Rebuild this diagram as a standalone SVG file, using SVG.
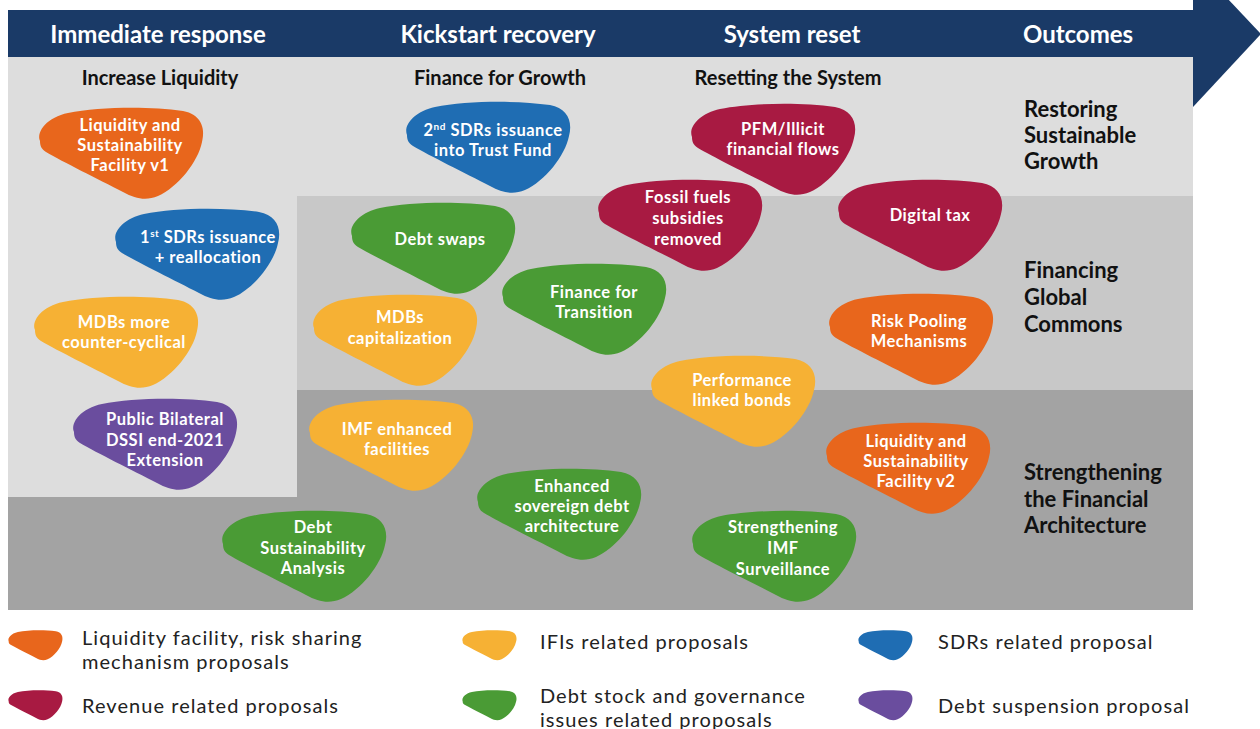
<svg xmlns="http://www.w3.org/2000/svg" xmlns:xlink="http://www.w3.org/1999/xlink" width="1260" height="729" viewBox="0 0 1260 729">
<style>
.hdr{font-family:Lato,"Liberation Sans",sans-serif;font-weight:700;font-size:24px;fill:#ffffff;text-anchor:middle}
.sub{font-family:Lato,"Liberation Sans",sans-serif;font-weight:700;font-size:20px;fill:#111111;text-anchor:middle}
.out{font-family:Lato,"Liberation Sans",sans-serif;font-weight:700;font-size:22px;fill:#111111}
.bt{font-family:Lato,"Liberation Sans",sans-serif;font-weight:700;font-size:16.5px;letter-spacing:0.5px;fill:#ffffff;text-anchor:middle}
.lg{font-family:Lato,"Liberation Sans",sans-serif;font-weight:400;font-size:20px;letter-spacing:1.05px;fill:#222222}
.orange{fill:#e8661c}
.blue{fill:#1f6db3}
.crimson{fill:#a81a42}
.green{fill:#4a9b35}
.yellow{fill:#f6b134}
.purple{fill:#6a4d9e}
</style>
<defs>
<path id="blob" d="M 2,34 C -2,24 10,10 30,6 C 60,0 110,-1 145,4 C 162,7 168,20 164,35 C 160,55 140,80 120,89 C 108,94 98,92 85,85 C 60,72 25,55 8,45 C 3,42 2,38 2,34 Z"/>
</defs>

<g id="background">
<rect x="8" y="57" width="1185" height="553" fill="#dddddd"/>
<rect x="297" y="196" width="896" height="194" fill="#c8c8c8"/>
<path d="M297,390 H1193 V610 H8 V497 H297 Z" fill="#a3a3a3"/>
</g>

<g id="header">
<rect x="8" y="10" width="1186" height="47" fill="#1a3a67"/>
<polygon points="1193,-38 1261,34 1193,107" fill="#1a3a67"/>
<text class="hdr" x="158" y="43">Immediate response</text>
<text class="hdr" x="498" y="43">Kickstart recovery</text>
<text class="hdr" x="792" y="43">System reset</text>
<text class="hdr" x="1078" y="43">Outcomes</text>
</g>

<g id="subheaders">
<text class="sub" x="160" y="85">Increase Liquidity</text>
<text class="sub" x="500" y="85">Finance for Growth</text>
<text class="sub" x="788" y="85">Resetting the System</text>
</g>

<g id="outcomes">
<text class="out" x="1024" y="117">Restoring</text>
<text class="out" x="1024" y="143">Sustainable</text>
<text class="out" x="1024" y="169">Growth</text>
<text class="out" x="1024" y="278">Financing</text>
<text class="out" x="1024" y="305">Global</text>
<text class="out" x="1024" y="332">Commons</text>
<text class="out" x="1024" y="480">Strengthening</text>
<text class="out" x="1024" y="507">the Financial</text>
<text class="out" x="1024" y="533">Architecture</text>
</g>

<g id="connectors"></g>

<g id="lsf1">
<use xlink:href="#blob" class="orange" transform="translate(38,107)"/>
<text class="bt" x="130" y="131">Liquidity and</text>
<text class="bt" x="130" y="151">Sustainability</text>
<text class="bt" x="130" y="171">Facility v1</text>
</g>
<g id="sdr2">
<use xlink:href="#blob" class="blue" transform="translate(405,101)"/>
<text class="bt" x="493" y="136">2<tspan font-size="10" dy="-6">nd</tspan><tspan dy="6"> SDRs issuance</tspan></text>
<text class="bt" x="493" y="156">into Trust Fund</text>
</g>
<g id="pfm">
<use xlink:href="#blob" class="crimson" transform="translate(690,103)"/>
<text class="bt" x="783" y="135">PFM/Illicit</text>
<text class="bt" x="783" y="155">financial flows</text>
</g>
<g id="fossil">
<use xlink:href="#blob" class="crimson" transform="translate(597,179)"/>
<text class="bt" x="688" y="203">Fossil fuels</text>
<text class="bt" x="688" y="224">subsidies</text>
<text class="bt" x="688" y="245">removed</text>
</g>
<g id="digital">
<use xlink:href="#blob" class="crimson" transform="translate(837,179)"/>
<text class="bt" x="930" y="221">Digital tax</text>
</g>
<g id="sdr1">
<use xlink:href="#blob" class="blue" transform="translate(114,208)"/>
<text class="bt" x="208" y="243">1<tspan font-size="10" dy="-6">st</tspan><tspan dy="6"> SDRs issuance</tspan></text>
<text class="bt" x="208" y="263">+ reallocation</text>
</g>
<g id="swaps">
<use xlink:href="#blob" class="green" transform="translate(350,202)"/>
<text class="bt" x="440" y="245">Debt swaps</text>
</g>
<g id="transition">
<use xlink:href="#blob" class="green" transform="translate(501,263)"/>
<text class="bt" x="594" y="298">Finance for</text>
<text class="bt" x="594" y="318">Transition</text>
</g>
<g id="mdbcc">
<use xlink:href="#blob" class="yellow" transform="translate(33,296)"/>
<text class="bt" x="124" y="328">MDBs more</text>
<text class="bt" x="124" y="348">counter-cyclical</text>
</g>
<g id="mdbcap">
<use xlink:href="#blob" class="yellow" transform="translate(312,294)"/>
<text class="bt" x="400" y="323">MDBs</text>
<text class="bt" x="400" y="344">capitalization</text>
</g>
<g id="risk">
<use xlink:href="#blob" class="orange" transform="translate(828,293)"/>
<text class="bt" x="919" y="327">Risk Pooling</text>
<text class="bt" x="919" y="347">Mechanisms</text>
</g>
<g id="perf">
<use xlink:href="#blob" class="yellow" transform="translate(650,355)"/>
<text class="bt" x="742" y="386">Performance</text>
<text class="bt" x="742" y="406">linked bonds</text>
</g>
<g id="dssi">
<use xlink:href="#blob" class="purple" transform="translate(72,398)"/>
<text class="bt" x="165" y="425">Public Bilateral</text>
<text class="bt" x="165" y="446">DSSI end-2021</text>
<text class="bt" x="165" y="466">Extension</text>
</g>
<g id="imf">
<use xlink:href="#blob" class="yellow" transform="translate(308,399)"/>
<text class="bt" x="397" y="435">IMF enhanced</text>
<text class="bt" x="397" y="455">facilities</text>
</g>
<g id="lsf2">
<use xlink:href="#blob" class="orange" transform="translate(825,422)"/>
<text class="bt" x="916" y="447">Liquidity and</text>
<text class="bt" x="916" y="467">Sustainability</text>
<text class="bt" x="916" y="487">Facility v2</text>
</g>
<g id="sov">
<use xlink:href="#blob" class="green" transform="translate(476,468)"/>
<text class="bt" x="572" y="492">Enhanced</text>
<text class="bt" x="572" y="512">sovereign debt</text>
<text class="bt" x="572" y="532">architecture</text>
</g>
<g id="dsa">
<use xlink:href="#blob" class="green" transform="translate(221,510)"/>
<text class="bt" x="313" y="533">Debt</text>
<text class="bt" x="313" y="554">Sustainability</text>
<text class="bt" x="313" y="574">Analysis</text>
</g>
<g id="surv">
<use xlink:href="#blob" class="green" transform="translate(691,510)"/>
<text class="bt" x="783" y="533">Strengthening</text>
<text class="bt" x="783" y="554">IMF</text>
<text class="bt" x="783" y="575">Surveillance</text>
</g>

<g id="legend">
<use xlink:href="#blob" class="orange" transform="translate(8,630) scale(0.33)"/>
<text class="lg" x="82" y="645">Liquidity facility, risk sharing</text>
<text class="lg" x="82" y="669">mechanism proposals</text>
<use xlink:href="#blob" class="crimson" transform="translate(8,690) scale(0.33)"/>
<text class="lg" x="82" y="713">Revenue related proposals</text>
<use xlink:href="#blob" class="yellow" transform="translate(462,630) scale(0.33)"/>
<text class="lg" x="540" y="649">IFIs related proposals</text>
<use xlink:href="#blob" class="green" transform="translate(462,690) scale(0.33)"/>
<text class="lg" x="540" y="703">Debt stock and governance</text>
<text class="lg" x="540" y="727">issues related proposals</text>
<use xlink:href="#blob" class="blue" transform="translate(858,630) scale(0.33)"/>
<text class="lg" x="938" y="649">SDRs related proposal</text>
<use xlink:href="#blob" class="purple" transform="translate(858,690) scale(0.33)"/>
<text class="lg" x="938" y="713">Debt suspension proposal</text>
</g>
</svg>
